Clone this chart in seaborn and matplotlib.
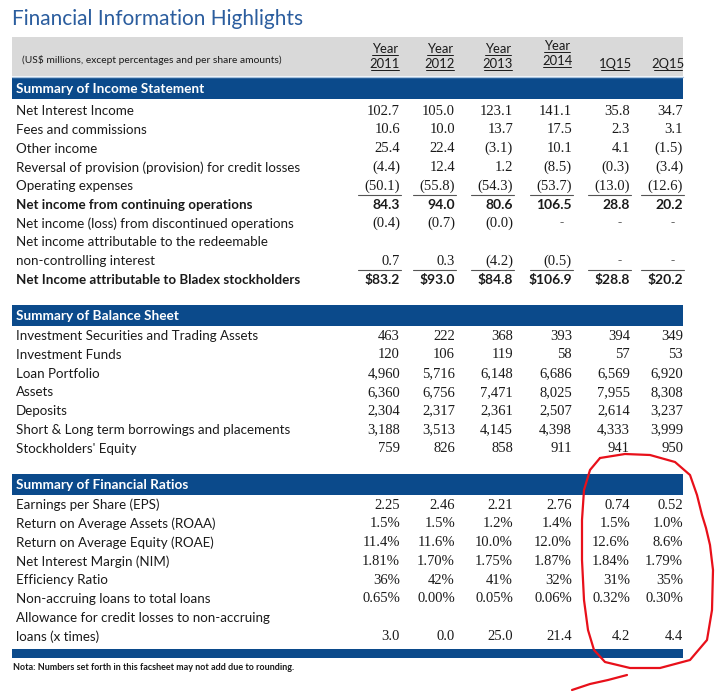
import matplotlib
matplotlib.use("Agg")
import matplotlib.pyplot as plt
import seaborn as sns

# table content
col_top = ["Year", "Year", "Year", "Year", "", ""]
col_bottom = ["2011", "2012", "2013", "2014", "1Q15", "2Q15"]

income_labels = ["Net Interest Income", "Fees and commissions", "Other income",
                 "Reversal of provision (provision) for credit losses",
                 "Operating expenses", "Net income from continuing operations",
                 "Net income (loss) from discontinued operations",
                 "Net income attributable to the redeemable",
                 "non-controlling interest",
                 "Net Income attributable to Bladex stockholders"]
income_values = [
    ["102.7", "105.0", "123.1", "141.1", "35.8", "34.7"],
    ["10.6", "10.0", "13.7", "17.5", "2.3", "3.1"],
    ["25.4", "22.4", "(3.1)", "10.1", "4.1", "(1.5)"],
    ["(4.4)", "12.4", "1.2", "(8.5)", "(0.3)", "(3.4)"],
    ["(50.1)", "(55.8)", "(54.3)", "(53.7)", "(13.0)", "(12.6)"],
    ["84.3", "94.0", "80.6", "106.5", "28.8", "20.2"],
    ["(0.4)", "(0.7)", "(0.0)", "-", "-", "-"],
    ["", "", "", "", "", ""],
    ["0.7", "0.3", "(4.2)", "(0.5)", "-", "-"],
    ["$83.2", "$93.0", "$84.8", "$106.9", "$28.8", "$20.2"],
]
income_bold = [5, 9]
income_underline = [4, 8]

balance_labels = ["Investment Securities and Trading Assets", "Investment Funds",
                  "Loan Portfolio", "Assets", "Deposits",
                  "Short & Long term borrowings and placements",
                  "Stockholders' Equity"]
balance_values = [
    ["463", "222", "368", "393", "394", "349"],
    ["120", "106", "119", "58", "57", "53"],
    ["4,960", "5,716", "6,148", "6,686", "6,569", "6,920"],
    ["6,360", "6,756", "7,471", "8,025", "7,955", "8,308"],
    ["2,304", "2,317", "2,361", "2,507", "2,614", "3,237"],
    ["3,188", "3,513", "4,145", "4,398", "4,333", "3,999"],
    ["759", "826", "858", "911", "941", "950"],
]

ratio_labels = ["Earnings per Share (EPS)", "Return on Average Assets (ROAA)",
                "Return on Average Equity (ROAE)", "Net Interest Margin (NIM)",
                "Efficiency Ratio", "Non-accruing loans to total loans",
                "Allowance for credit losses to non-accruing",
                "loans (x times)"]
ratio_values = [
    ["2.25", "2.46", "2.21", "2.76", "0.74", "0.52"],
    ["1.5%", "1.5%", "1.2%", "1.4%", "1.5%", "1.0%"],
    ["11.4%", "11.6%", "10.0%", "12.0%", "12.6%", "8.6%"],
    ["1.81%", "1.70%", "1.75%", "1.87%", "1.84%", "1.79%"],
    ["36%", "42%", "41%", "32%", "31%", "35%"],
    ["0.65%", "0.00%", "0.05%", "0.06%", "0.32%", "0.30%"],
    ["", "", "", "", "", ""],
    ["3.0", "0.0", "25.0", "21.4", "4.2", "4.4"],
]

sns.set_style("white")
LABEL_FONT = "Lato"
NUM_FONT = "Liberation Serif"
BLUE = "#0b4a8b"
TXT = "#1a1a1a"

fig = plt.figure(figsize=(7.18, 6.94), dpi=100)
ax = fig.add_axes([0, 0, 1, 1])
ax.set_xlim(0, 718)
ax.set_ylim(694, 0)
ax.axis("off")

LEFT, RIGHT = 12, 683
col_right = [400, 455, 513, 572, 630, 683]
ROW_H = 18.75

ax.text(LEFT, 19, "Financial Information Highlights", fontsize=15,
        color="#2b5d9e", family=LABEL_FONT, va="center", ha="left")

# grey header band
ax.add_patch(plt.Rectangle((LEFT, 37), RIGHT - LEFT, 39, color="#d9d9d9", lw=0))
ax.plot([LEFT, RIGHT], [76.5, 76.5], color="#a9c3de", lw=1)
ax.text(22, 60, "(US$ millions, except percentages and per share amounts)",
        fontsize=7.4, family=LABEL_FONT, color=TXT, va="center")
for i, r in enumerate(col_right):
    cx = r - 15
    low = 61 if i == 3 else 64
    if col_top[i]:
        ax.text(cx, low - 15, col_top[i], fontsize=9.4, family=LABEL_FONT,
                color=TXT, ha="center", va="center")
        ax.plot([cx - 13, cx + 13], [low - 9.5, low - 9.5], color=TXT, lw=0.7)
    ax.text(cx, low, col_bottom[i], fontsize=9.4, family=LABEL_FONT,
            color=TXT, ha="center", va="center")
    ax.plot([cx - 14, cx + 14], [low + 6, low + 6], color=TXT, lw=0.7)


def band(y0, title):
    ax.add_patch(plt.Rectangle((LEFT, y0), RIGHT - LEFT, 21, color=BLUE, lw=0))
    ax.text(16, y0 + 11, title, fontsize=9.8, weight="bold", color="white",
            family=LABEL_FONT, va="center")


def section(y_first, labels, values, bold=(), underline=()):
    for k, (lab, vals) in enumerate(zip(labels, values)):
        y = y_first + k * ROW_H
        w = "bold" if k in bold else "normal"
        ax.text(16, y, lab, fontsize=9.6, family=LABEL_FONT, weight=w,
                color=TXT, va="center")
        for r, v in zip(col_right, vals):
            if not v:
                continue
            if v == "-":
                ax.text(r - 8, y, v, fontsize=9, family=NUM_FONT, color="#666666",
                        ha="right", va="center")
            elif k in bold:
                ax.text(r, y, v, fontsize=10, family=LABEL_FONT, weight="bold",
                        color=TXT, ha="right", va="center")
            else:
                ax.text(r, y, v, fontsize=10.5, family=NUM_FONT, color=TXT,
                        ha="right", va="center")
        if k in underline:
            for r in col_right:
                ax.plot([r - 42, r + 1], [y + 9, y + 9], color="#555555", lw=0.8)


band(78, "Summary of Income Statement")
section(111, income_labels, income_values, income_bold, income_underline)
band(305, "Summary of Balance Sheet")
section(336, balance_labels, balance_values)
band(474, "Summary of Financial Ratios")
section(505, ratio_labels, ratio_values)
ax.add_patch(plt.Rectangle((LEFT, 649), RIGHT - LEFT, 9, color=BLUE, lw=0))
ax.text(13, 668, "Nota: Numbers set forth in this facsheet may not add due to rounding.",
        fontsize=6.5, weight="bold", family=LABEL_FONT, color=TXT, va="center")

# hand-drawn red circle around the quarterly columns
circ_x = [600, 625, 650, 675, 690, 697, 702, 706, 710, 713, 712, 707, 690,
          660, 630, 605, 594, 588, 584, 582, 582, 584, 590, 600]
circ_y = [458, 454, 455, 462, 475, 495, 515, 528, 545, 570, 610, 640, 660,
          668, 668, 662, 650, 630, 600, 560, 520, 490, 470, 458]
ax.plot(circ_x, circ_y, color="#e8101a", lw=1.6, solid_capstyle="round")
ax.plot([627, 608, 590, 572], [675, 680, 684, 690], color="#e8101a", lw=1.6)

fig.savefig("out.png", dpi=100)
